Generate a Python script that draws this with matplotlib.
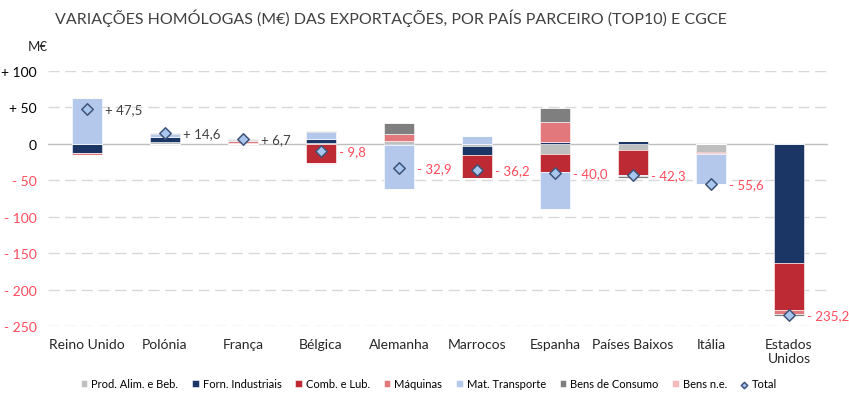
import numpy as np
import matplotlib.pyplot as plt

plt.rcParams['font.family'] = ['Lato', 'DejaVu Sans']

paises = ['Reino Unido', 'Polónia', 'França', 'Bélgica', 'Alemanha', 'Marrocos',
          'Espanha', 'Países Baixos', 'Itália', 'Estados\nUnidos']

# variações por grupo CGCE (M€)
prod_alim = [-0.5, 3.0, 1.0, 1.0, 4.5, -2.5, -14.0, -8.0, -11.5, 0.0]
forn_ind = [-12.5, 6.2, 0.0, 6.0, -2.0, -13.0, 3.0, 4.5, 0.0, -164.0]
comb_lub = [0.0, 0.0, 0.0, -26.3, 0.0, -31.5, -24.0, -34.5, -1.0, -63.5]
maquinas = [-2.5, 0.0, 3.0, 0.0, 8.5, 0.0, 27.5, 0.0, -2.0, -5.5]
mat_transp = [63.0, 3.8, 1.5, 9.0, -59.9, 10.8, -51.5, -1.8, -41.1, 1.5]
bens_cons = [0.0, 1.6, 1.2, 1.5, 16.0, 0.0, 19.0, -2.5, 0.0, -3.7]
bens_ne = [0.0, 0.0, 0.0, -1.0, 0.0, 0.0, 0.0, 0.0, 0.0, 0.0]
total = [47.5, 14.6, 6.7, -9.8, -32.9, -36.2, -40.0, -42.3, -55.6, -235.2]

series = [
    ('Prod. Alim. e Beb.', prod_alim, '#BFBFBF'),
    ('Forn. Industriais', forn_ind, '#1B3564'),
    ('Comb. e Lub.', comb_lub, '#BE2A33'),
    ('Máquinas', maquinas, '#E2777C'),
    ('Mat. Transporte', mat_transp, '#B4C8EC'),
    ('Bens de Consumo', bens_cons, '#7F7F7F'),
    ('Bens n.e.', bens_ne, '#F6B9BC'),
]

fig = plt.figure(figsize=(8.49, 4.06), dpi=100)
ax = fig.add_axes([0.0565, 0.1946, 0.9187, 0.628])

x = np.arange(len(paises))
w = 0.39
pos_base = np.zeros(len(paises))
neg_base = np.zeros(len(paises))
for nome, vals, cor in series:
    v = np.array(vals)
    p = np.where(v > 0, v, 0)
    n = np.where(v < 0, v, 0)
    ax.bar(x, p, w, bottom=pos_base, color=cor, edgecolor='white', linewidth=0.4, label=nome, zorder=3)
    ax.bar(x, n, w, bottom=neg_base, color=cor, edgecolor='white', linewidth=0.4, zorder=3)
    pos_base += p
    neg_base += n

ax.scatter(x, total, marker='D', s=34, facecolor='#A9C6EE', edgecolor='#3F5478',
           linewidth=1.1, zorder=5, label='Total')

for i, t in enumerate(total):
    s = ('+ ' if t > 0 else '- ') + f'{abs(t):.1f}'.replace('.', ',')
    cor = '#404040' if t > 0 else '#FF4B5C'
    ax.annotate(s, (x[i] + w / 2, t), xytext=(2, 0), textcoords='offset points',
                va='center', ha='left', fontsize=9.5, color=cor, zorder=6)

ax.set_xlim(-0.5, len(paises) - 0.5)
ax.set_ylim(-250, 100)
yt = [100, 50, 0, -50, -100, -150, -200, -250]
ax.set_yticks(yt)
lbls = []
for v in yt:
    if v > 0:
        lbls.append(f'+ {v}')
    elif v < 0:
        lbls.append(f'- {abs(v)}')
    else:
        lbls.append('0')
ax.set_yticklabels(lbls, fontsize=10)
for lab, v in zip(ax.get_yticklabels(), yt):
    lab.set_color('#FF4B5C' if v < 0 else '#000000')
ax.set_xticks(x)
ax.set_xticklabels(paises, fontsize=10, color='#262626')
ax.tick_params(length=0, pad=8)
ax.tick_params(axis='x', pad=9)

for v in yt:
    if v == 0:
        ax.axhline(0, color='#BFBFBF', lw=1, zorder=1)
    else:
        ax.axhline(v, color='#D9D9D9', lw=1, ls=(0, (8, 4)), zorder=1)
for sp in ax.spines.values():
    sp.set_visible(False)

fig.text(0.033, 0.875, 'M€', fontsize=9.5, color='#262626')
fig.text(0.065, 0.955, 'VARIAÇÕES HOMÓLOGAS (M€) DAS EXPORTAÇÕES, POR PAÍS PARCEIRO (TOP10) E CGCE',
         fontsize=11.5, color='#404040', va='center')

h, l = ax.get_legend_handles_labels()
h = h[1:] + h[:1]
l = l[1:] + l[:1]
fig.legend(h, l, loc='center', bbox_to_anchor=(0.505, 0.052), ncol=8, frameon=False,
           fontsize=8, handlelength=0.6, handleheight=0.6, handletextpad=0.35,
           columnspacing=1.25, markerscale=0.55)

fig.savefig('out.png', dpi=100)
